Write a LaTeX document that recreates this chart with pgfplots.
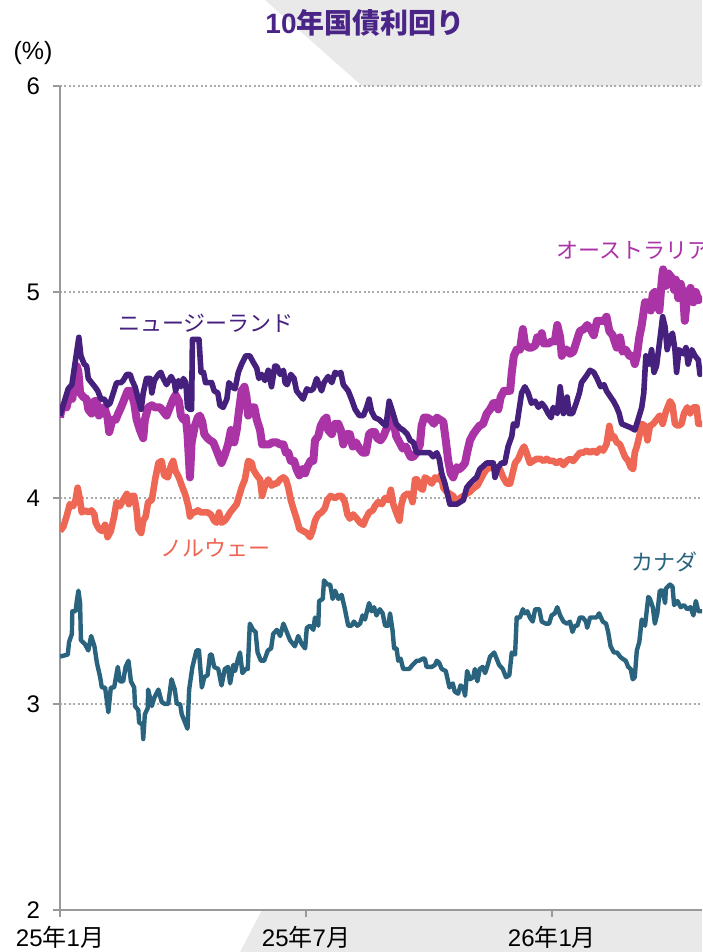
\documentclass[border=0pt]{standalone}
\usepackage{fontspec}
\setmainfont{Liberation Sans}
\newfontfamily\cjk{Noto Sans CJK JP}
\usepackage{pgfplots}
\pgfplotsset{compat=1.18}
\definecolor{nzc}{HTML}{45207D}
\definecolor{auc}{HTML}{AA33A6}
\definecolor{noc}{HTML}{EE6654}
\definecolor{cac}{HTML}{2A637D}
\definecolor{titc}{HTML}{4A2587}
\definecolor{bgg}{HTML}{E9E9E9}
\definecolor{axg}{HTML}{999999}
\definecolor{gridg}{HTML}{ABABAB}
\begin{document}
\begin{tikzpicture}[x=1pt,y=1pt]
\fill[bgg] (132.5,476) -- (181,433) -- (351,433) -- (351,476) -- cycle;
\fill[bgg] (120,0) -- (131,21) -- (351,21) -- (351,0) -- cycle;
\begin{axis}[
  at={(30pt,21pt)}, anchor=south west,
  scale only axis, width=321pt, height=412pt,
  xmin=0, xmax=15.66, ymin=2, ymax=6,
  axis background/.style={fill=white},
  axis x line*=bottom, axis y line*=left,
  axis line style={draw=axg, line width=1pt, -},
  xtick={0,6,12},
  xticklabels={25{\cjk 年}1{\cjk 月},25{\cjk 年}7{\cjk 月},26{\cjk 年}1{\cjk 月}},
  ytick={2,3,4,5,6},
  tick style={draw=axg, line width=1pt},
  tick align=outside, major tick length=3.5pt,
  ymajorgrids, grid style={draw=gridg, line width=1pt, dash pattern=on 1pt off 1.2pt},
  ticklabel style={font=\fontsize{12}{14}\selectfont, text=black},
  yticklabel style={xshift=-3pt},
  xticklabel style={yshift=-1pt},
  /pgf/number format/assume math mode=true,
  clip=true,
]
% Canada
\addplot[cac, line width=2.2pt, line join=round, no markers] coordinates {
(0.00,3.23)(0.19,3.24)(0.22,3.30)(0.29,3.34)(0.30,3.45)(0.38,3.45)(0.41,3.50)(0.45,3.55)(0.49,3.49)(0.51,3.31)
(0.61,3.29)(0.69,3.26)(0.76,3.33)(0.84,3.28)(0.90,3.20)(0.98,3.13)(1.02,3.08)(1.10,3.08)(1.18,2.96)(1.24,3.08)
(1.32,3.08)(1.41,3.18)(1.46,3.11)(1.54,3.11)(1.60,3.18)(1.67,3.21)(1.73,3.11)(1.81,3.08)(1.83,2.99)(1.91,2.97)
(1.93,2.91)(2.01,2.90)(2.03,2.83)(2.07,2.95)(2.14,2.98)(2.15,3.07)(2.24,2.99)(2.30,3.03)(2.40,3.07)(2.48,3.01)
(2.56,3.00)(2.64,3.00)(2.72,3.12)(2.80,3.07)(2.85,3.00)(2.93,3.00)(2.97,2.95)(3.05,2.91)(3.11,2.88)(3.15,3.07)
(3.23,3.18)(3.33,3.26)(3.39,3.26)(3.46,3.08)(3.52,3.13)(3.60,3.14)(3.66,3.24)(3.70,3.24)(3.76,3.18)(3.86,3.17)
(3.94,3.09)(4.02,3.17)(4.10,3.18)(4.15,3.10)(4.23,3.19)(4.27,3.16)(4.33,3.21)(4.39,3.25)(4.45,3.15)(4.53,3.17)
(4.58,3.17)(4.63,3.39)(4.71,3.36)(4.77,3.35)(4.82,3.25)(4.90,3.21)(4.98,3.21)(5.07,3.26)(5.15,3.27)(5.20,3.34)
(5.29,3.36)(5.37,3.33)(5.45,3.39)(5.53,3.35)(5.61,3.31)(5.73,3.28)(5.81,3.33)(5.90,3.29)(5.98,3.27)(6.02,3.37)
(6.10,3.38)(6.18,3.36)(6.22,3.42)(6.30,3.38)(6.32,3.50)(6.41,3.51)(6.44,3.60)(6.52,3.58)(6.59,3.58)(6.65,3.51)
(6.71,3.55)(6.79,3.51)(6.87,3.53)(6.95,3.46)(7.03,3.38)(7.11,3.38)(7.17,3.40)(7.25,3.38)(7.32,3.39)(7.38,3.43)
(7.44,3.41)(7.50,3.46)(7.54,3.49)(7.60,3.45)(7.66,3.47)(7.72,3.43)(7.80,3.46)(7.87,3.44)(7.93,3.38)(8.01,3.38)
(8.05,3.44)(8.11,3.36)(8.15,3.27)(8.21,3.27)(8.25,3.21)(8.31,3.22)(8.37,3.17)(8.46,3.17)(8.52,3.17)(8.60,3.19)
(8.70,3.21)(8.76,3.21)(8.85,3.22)(8.90,3.22)(8.94,3.18)(9.07,3.18)(9.15,3.19)(9.19,3.21)(9.25,3.20)(9.31,3.17)
(9.41,3.16)(9.50,3.08)(9.58,3.10)(9.63,3.06)(9.71,3.05)(9.77,3.09)(9.84,3.08)(9.88,3.04)(9.93,3.16)(10.00,3.12)
(10.08,3.13)(10.12,3.17)(10.18,3.11)(10.24,3.17)(10.31,3.18)(10.37,3.15)(10.42,3.18)(10.49,3.23)(10.59,3.25)(10.65,3.22)
(10.71,3.19)(10.80,3.17)(10.88,3.13)(10.96,3.14)(11.02,3.25)(11.10,3.24)(11.14,3.42)(11.22,3.42)(11.29,3.46)(11.34,3.44)
(11.40,3.45)(11.46,3.42)(11.53,3.40)(11.59,3.46)(11.69,3.46)(11.75,3.40)(11.85,3.39)(11.93,3.39)(11.99,3.43)(12.07,3.44)
(12.13,3.47)(12.20,3.43)(12.28,3.40)(12.37,3.39)(12.44,3.40)(12.50,3.35)(12.56,3.38)(12.62,3.38)(12.68,3.42)(12.75,3.42)
(12.83,3.40)(12.86,3.37)(12.93,3.42)(13.01,3.42)(13.09,3.42)(13.15,3.44)(13.24,3.40)(13.32,3.39)(13.37,3.35)(13.43,3.28)
(13.51,3.25)(13.59,3.25)(13.66,3.23)(13.72,3.22)(13.80,3.21)(13.86,3.18)(13.92,3.17)(13.97,3.12)(14.02,3.13)(14.07,3.26)
(14.13,3.30)(14.19,3.41)(14.27,3.38)(14.35,3.52)(14.39,3.51)(14.46,3.47)(14.51,3.39)(14.57,3.44)(14.63,3.55)(14.70,3.55)
(14.76,3.49)(14.78,3.56)(14.88,3.58)(14.94,3.57)(14.98,3.48)(15.06,3.50)(15.14,3.47)(15.22,3.48)(15.30,3.46)(15.38,3.47)
(15.45,3.43)(15.51,3.50)(15.57,3.45)(15.66,3.45)
};
% Norway
\addplot[noc, line width=3.3pt, line join=round, no markers] coordinates {
(0.00,3.84)(0.08,3.86)(0.16,3.91)(0.24,3.97)(0.32,3.96)(0.38,3.99)(0.43,4.05)(0.49,3.99)(0.53,3.93)(0.61,3.94)
(0.69,3.93)(0.77,3.94)(0.84,3.92)(0.87,3.88)(0.95,3.85)(1.02,3.84)(1.10,3.87)(1.16,3.81)(1.24,3.84)(1.32,3.91)
(1.38,3.98)(1.46,3.96)(1.54,3.99)(1.63,4.02)(1.68,3.97)(1.75,4.01)(1.81,4.01)(1.87,3.94)(1.91,3.85)(1.98,3.83)
(2.03,3.89)(2.09,3.91)(2.15,3.98)(2.24,3.99)(2.32,4.09)(2.40,4.17)(2.48,4.18)(2.54,4.11)(2.63,4.10)(2.71,4.16)
(2.76,4.18)(2.82,4.13)(2.90,4.10)(2.97,4.06)(3.05,4.02)(3.13,3.96)(3.17,3.91)(3.23,3.93)(3.29,3.93)(3.36,3.94)
(3.44,3.93)(3.52,3.93)(3.60,3.93)(3.68,3.92)(3.76,3.89)(3.82,3.88)(3.88,3.93)(3.94,3.88)(4.02,3.89)(4.09,3.91)
(4.15,3.93)(4.23,3.95)(4.31,3.97)(4.37,4.01)(4.43,4.05)(4.51,4.09)(4.59,4.18)(4.68,4.17)(4.71,4.14)(4.80,4.11)
(4.88,4.09)(4.93,4.01)(5.00,4.06)(5.08,4.09)(5.16,4.06)(5.24,4.07)(5.29,4.07)(5.37,4.09)(5.45,4.10)(5.51,4.09)
(5.57,4.05)(5.63,3.99)(5.69,3.95)(5.77,3.90)(5.84,3.85)(5.93,3.84)(6.02,3.83)(6.10,3.81)(6.16,3.84)(6.22,3.89)
(6.30,3.92)(6.38,3.93)(6.46,3.95)(6.52,3.99)(6.60,4.01)(6.71,4.00)(6.79,4.01)(6.87,4.01)(6.95,3.98)(7.01,3.92)
(7.07,3.90)(7.15,3.92)(7.24,3.90)(7.32,3.88)(7.40,3.87)(7.46,3.90)(7.54,3.93)(7.63,3.94)(7.68,3.96)(7.76,3.98)
(7.85,3.97)(7.93,4.00)(8.01,3.99)(8.07,4.04)(8.13,3.97)(8.20,3.93)(8.28,3.89)(8.33,3.97)(8.39,4.01)(8.47,4.02)
(8.54,4.02)(8.60,3.98)(8.66,4.09)(8.71,4.09)(8.78,4.05)(8.85,4.04)(8.90,4.10)(8.98,4.09)(9.07,4.07)(9.15,4.10)
(9.23,4.09)(9.29,4.11)(9.35,4.05)(9.43,4.03)(9.51,4.02)(9.59,4.01)(9.68,3.98)(9.76,4.00)(9.84,4.01)(9.92,4.02)
(10.00,4.03)(10.10,4.05)(10.18,4.06)(10.26,4.09)(10.34,4.12)(10.41,4.14)(10.53,4.15)(10.65,4.13)(10.73,4.14)(10.81,4.10)
(10.90,4.07)(10.98,4.07)(11.04,4.12)(11.10,4.17)(11.18,4.19)(11.26,4.23)(11.32,4.25)(11.38,4.22)(11.46,4.17)(11.54,4.18)
(11.63,4.19)(11.71,4.19)(11.80,4.18)(11.87,4.19)(11.95,4.18)(12.03,4.18)(12.11,4.17)(12.20,4.18)(12.28,4.16)(12.36,4.18)
(12.44,4.19)(12.52,4.18)(12.60,4.20)(12.68,4.22)(12.76,4.22)(12.85,4.23)(12.93,4.22)(13.01,4.23)(13.09,4.22)(13.17,4.24)
(13.25,4.23)(13.33,4.26)(13.40,4.35)(13.46,4.29)(13.51,4.30)(13.58,4.27)(13.66,4.26)(13.72,4.23)(13.78,4.20)(13.86,4.18)
(13.92,4.15)(13.98,4.14)(14.02,4.22)(14.07,4.25)(14.13,4.30)(14.19,4.36)(14.27,4.35)(14.33,4.28)(14.39,4.35)(14.47,4.36)
(14.55,4.38)(14.63,4.40)(14.70,4.36)(14.78,4.42)(14.88,4.47)(14.94,4.45)(15.00,4.36)(15.08,4.35)(15.16,4.36)(15.22,4.41)
(15.30,4.44)(15.37,4.41)(15.45,4.44)(15.53,4.44)(15.57,4.36)(15.66,4.36)
};
% Australia
\addplot[auc, line width=4pt, line join=round, no markers] coordinates {
(0.00,4.39)(0.04,4.44)(0.16,4.44)(0.22,4.49)(0.30,4.48)(0.35,4.56)(0.41,4.64)(0.45,4.61)(0.49,4.51)(0.57,4.49)
(0.65,4.48)(0.69,4.43)(0.77,4.41)(0.84,4.47)(0.90,4.47)(0.95,4.40)(1.02,4.42)(1.08,4.44)(1.16,4.39)(1.20,4.32)
(1.28,4.38)(1.36,4.38)(1.42,4.41)(1.49,4.44)(1.57,4.48)(1.65,4.52)(1.73,4.52)(1.81,4.46)(1.87,4.38)(1.95,4.33)
(2.03,4.29)(2.07,4.38)(2.15,4.44)(2.24,4.45)(2.32,4.44)(2.44,4.44)(2.52,4.42)(2.60,4.40)(2.68,4.44)(2.76,4.48)
(2.82,4.50)(2.90,4.47)(2.95,4.40)(3.01,4.38)(3.07,4.39)(3.11,4.31)(3.17,4.10)(3.21,4.27)(3.29,4.35)(3.36,4.39)
(3.41,4.40)(3.47,4.37)(3.52,4.31)(3.60,4.29)(3.66,4.28)(3.74,4.27)(3.82,4.23)(3.88,4.20)(3.94,4.17)(4.02,4.21)
(4.10,4.26)(4.17,4.33)(4.25,4.27)(4.31,4.33)(4.37,4.43)(4.43,4.52)(4.50,4.54)(4.55,4.49)(4.59,4.40)(4.68,4.44)
(4.74,4.44)(4.80,4.38)(4.88,4.33)(4.93,4.26)(5.02,4.26)(5.10,4.26)(5.18,4.27)(5.29,4.27)(5.37,4.26)(5.45,4.26)
(5.51,4.22)(5.57,4.22)(5.63,4.18)(5.71,4.18)(5.77,4.14)(5.84,4.11)(5.92,4.14)(5.98,4.12)(6.03,4.15)(6.11,4.18)
(6.18,4.18)(6.22,4.28)(6.30,4.30)(6.36,4.35)(6.44,4.38)(6.50,4.39)(6.54,4.33)(6.63,4.31)(6.71,4.36)(6.79,4.36)
(6.85,4.33)(6.91,4.26)(6.99,4.31)(7.07,4.31)(7.14,4.25)(7.22,4.27)(7.30,4.24)(7.38,4.22)(7.46,4.22)(7.54,4.31)
(7.60,4.32)(7.68,4.32)(7.74,4.29)(7.82,4.28)(7.89,4.30)(7.95,4.33)(8.01,4.35)(8.07,4.42)(8.13,4.38)(8.20,4.30)
(8.28,4.27)(8.36,4.24)(8.44,4.25)(8.50,4.22)(8.55,4.20)(8.62,4.20)(8.70,4.22)(8.78,4.26)(8.82,4.35)(8.88,4.39)
(8.96,4.39)(9.04,4.38)(9.12,4.36)(9.19,4.39)(9.27,4.38)(9.35,4.37)(9.41,4.28)(9.47,4.18)(9.53,4.12)(9.59,4.10)
(9.68,4.15)(9.74,4.14)(9.80,4.15)(9.88,4.17)(9.93,4.22)(10.00,4.28)(10.08,4.31)(10.15,4.33)(10.23,4.35)(10.32,4.36)
(10.41,4.41)(10.49,4.43)(10.57,4.46)(10.65,4.46)(10.69,4.43)(10.75,4.49)(10.83,4.52)(10.90,4.52)(10.98,4.52)(11.02,4.61)
(11.07,4.69)(11.14,4.72)(11.22,4.72)(11.29,4.82)(11.34,4.75)(11.42,4.73)(11.50,4.73)(11.59,4.74)(11.64,4.78)(11.69,4.76)
(11.75,4.80)(11.80,4.75)(11.91,4.75)(11.99,4.76)(12.07,4.76)(12.13,4.84)(12.20,4.78)(12.24,4.69)(12.29,4.72)(12.37,4.72)
(12.44,4.70)(12.52,4.71)(12.60,4.76)(12.68,4.81)(12.78,4.82)(12.86,4.84)(12.94,4.82)(13.02,4.79)(13.10,4.86)(13.19,4.86)
(13.27,4.86)(13.33,4.88)(13.40,4.81)(13.48,4.79)(13.58,4.73)(13.66,4.78)(13.72,4.71)(13.80,4.72)(13.89,4.69)(13.97,4.69)
(14.02,4.65)(14.07,4.69)(14.13,4.78)(14.19,4.84)(14.27,4.95)(14.35,4.95)(14.41,4.91)(14.46,4.99)(14.51,5.00)(14.55,4.95)
(14.62,4.91)(14.68,5.06)(14.71,5.11)(14.78,5.03)(14.84,5.09)(14.92,5.07)(14.98,5.01)(15.02,5.06)(15.08,4.97)(15.14,5.04)
(15.20,4.99)(15.24,4.86)(15.30,4.98)(15.38,5.02)(15.45,4.95)(15.51,5.00)(15.57,4.96)(15.66,4.98)
};
% New Zealand
\addplot[nzc, line width=2.8pt, line join=round, no markers] coordinates {
(0.00,4.40)(0.20,4.53)(0.29,4.55)(0.46,4.78)(0.51,4.69)(0.59,4.65)(0.65,4.64)(0.69,4.58)(0.77,4.56)(0.85,4.54)
(0.92,4.52)(1.00,4.48)(1.08,4.48)(1.16,4.45)(1.22,4.46)(1.30,4.51)(1.38,4.56)(1.49,4.56)(1.54,4.57)(1.63,4.60)
(1.71,4.60)(1.76,4.57)(1.83,4.54)(1.91,4.48)(1.98,4.43)(2.03,4.51)(2.11,4.58)(2.20,4.58)(2.24,4.51)(2.30,4.57)
(2.40,4.60)(2.46,4.61)(2.52,4.58)(2.60,4.55)(2.71,4.59)(2.79,4.56)(2.82,4.52)(2.89,4.57)(2.95,4.54)(3.01,4.58)
(3.07,4.56)(3.11,4.44)(3.17,4.43)(3.21,4.43)(3.23,4.77)(3.39,4.77)(3.44,4.61)(3.50,4.61)(3.55,4.56)(3.63,4.56)
(3.70,4.56)(3.76,4.52)(3.85,4.51)(3.90,4.45)(3.98,4.44)(4.07,4.48)(4.12,4.56)(4.19,4.54)(4.27,4.53)(4.35,4.61)
(4.43,4.65)(4.53,4.69)(4.63,4.69)(4.71,4.66)(4.80,4.63)(4.85,4.58)(4.92,4.60)(5.00,4.57)(5.08,4.62)(5.16,4.54)
(5.24,4.64)(5.29,4.64)(5.37,4.60)(5.45,4.62)(5.49,4.56)(5.54,4.55)(5.63,4.60)(5.71,4.58)(5.77,4.52)(5.85,4.50)
(5.93,4.48)(6.02,4.53)(6.10,4.52)(6.18,4.53)(6.26,4.58)(6.34,4.54)(6.38,4.52)(6.44,4.56)(6.54,4.59)(6.63,4.56)
(6.71,4.61)(6.79,4.60)(6.85,4.61)(6.91,4.55)(7.03,4.52)(7.11,4.48)(7.20,4.43)(7.30,4.40)(7.40,4.40)(7.48,4.44)
(7.54,4.48)(7.60,4.42)(7.68,4.39)(7.79,4.38)(7.89,4.36)(7.95,4.35)(8.03,4.47)(8.11,4.42)(8.20,4.36)(8.29,4.34)
(8.37,4.33)(8.47,4.31)(8.54,4.28)(8.62,4.27)(8.70,4.22)(8.78,4.22)(8.86,4.22)(8.94,4.22)(9.02,4.22)(9.10,4.20)
(9.19,4.22)(9.25,4.19)(9.31,4.12)(9.39,4.07)(9.45,4.02)(9.51,3.97)(9.59,3.97)(9.68,3.97)(9.76,3.98)(9.84,3.99)
(9.92,4.05)(10.00,4.07)(10.10,4.09)(10.16,4.10)(10.24,4.14)(10.41,4.17)(10.57,4.17)(10.61,4.10)(10.69,4.15)(10.77,4.17)
(10.85,4.17)(10.93,4.25)(11.02,4.30)(11.06,4.36)(11.14,4.35)(11.20,4.43)(11.26,4.51)(11.34,4.54)(11.42,4.51)(11.50,4.46)
(11.59,4.47)(11.67,4.44)(11.75,4.46)(11.83,4.44)(11.91,4.41)(11.98,4.39)(12.03,4.44)(12.13,4.41)(12.20,4.54)(12.28,4.41)
(12.37,4.49)(12.42,4.41)(12.50,4.41)(12.59,4.46)(12.67,4.51)(12.72,4.56)(12.83,4.59)(12.93,4.62)(13.02,4.61)(13.10,4.58)
(13.19,4.54)(13.27,4.55)(13.33,4.52)(13.43,4.49)(13.50,4.47)(13.58,4.44)(13.64,4.41)(13.70,4.36)(13.82,4.35)(13.94,4.34)
(14.02,4.33)(14.10,4.38)(14.19,4.44)(14.24,4.51)(14.29,4.69)(14.37,4.65)(14.43,4.72)(14.49,4.61)(14.55,4.64)(14.62,4.75)
(14.70,4.88)(14.76,4.83)(14.81,4.72)(14.88,4.78)(14.94,4.80)(15.00,4.72)(15.04,4.61)(15.10,4.72)(15.20,4.70)(15.27,4.73)
(15.32,4.65)(15.41,4.72)(15.49,4.69)(15.57,4.67)(15.61,4.60)(15.66,4.64)
};
\end{axis}
\node[text=titc, font=\fontsize{14}{16}\selectfont\bfseries] at (182.5,464.5) {10{\cjk 年国債利回り}};
\node[font=\fontsize{12.5}{14}\selectfont] at (16.5,449.5) {(\%)};
\node[text=nzc, font=\cjk\fontsize{11}{13}\selectfont] at (103,314.5) {ニュージーランド};
\node[text=auc, font=\cjk\fontsize{11}{13}\selectfont, anchor=west, inner sep=0pt] at (278,351) {オーストラリア};
\node[text=noc, font=\cjk\fontsize{11}{13}\selectfont] at (107.5,202) {ノルウェー};
\node[text=cac, font=\cjk\fontsize{11}{13}\selectfont, anchor=west, inner sep=0pt] at (315.5,195) {カナダ};
\pgfresetboundingbox
\path[use as bounding box] (0,0) rectangle (351,476);
\end{tikzpicture}
\end{document}
